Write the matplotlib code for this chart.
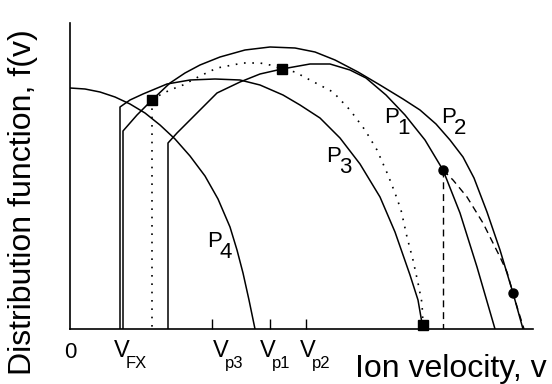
import numpy as np
import matplotlib.pyplot as plt

plt.rcParams['font.family'] = ['Liberation Sans', 'DejaVu Sans']

# ion velocity v and f(v), arbitrary units
p1_v = [0.98, 0.98, 1.07, 1.20, 1.30, 1.47, 1.70, 1.90, 2.12, 2.40, 2.60, 2.80, 2.96,
        3.16, 3.35, 3.55, 3.73, 3.90, 4.07, 4.16, 4.25]
p1_f = [0.00, 1.86, 1.96, 2.09, 2.19, 2.36, 2.47, 2.55, 2.60, 2.65, 2.65, 2.59, 2.51,
        2.34, 2.14, 1.89, 1.59, 1.16, 0.62, 0.31, 0.00]

p2_v = [0.53, 0.53, 0.67, 0.82, 1.00, 1.15, 1.30, 1.50, 1.75, 2.00, 2.25, 2.45, 2.65,
        2.88, 3.10, 3.33, 3.50, 3.66, 3.80, 3.93, 4.04, 4.17, 4.30, 4.43, 4.53]
p2_f = [0.00, 1.98, 2.14, 2.29, 2.46, 2.56, 2.64, 2.72, 2.79, 2.82, 2.81, 2.77, 2.69,
        2.57, 2.44, 2.30, 2.19, 2.05, 1.89, 1.72, 1.51, 1.17, 0.79, 0.36, 0.00]

p3_v = [0.50, 0.50, 0.60, 0.73, 0.97, 1.20, 1.45, 1.70, 1.90, 2.13, 2.30, 2.50, 2.70,
        2.90, 3.10, 3.25, 3.40, 3.48, 3.53]
p3_f = [0.00, 2.22, 2.29, 2.35, 2.45, 2.49, 2.50, 2.49, 2.44, 2.34, 2.24, 2.11, 1.91,
        1.65, 1.32, 0.97, 0.54, 0.29, 0.00]

p4_v = [0.00, 0.15, 0.30, 0.45, 0.60, 0.75, 0.90, 1.05, 1.20, 1.35, 1.48, 1.60, 1.67,
        1.73, 1.79, 1.85]
p4_f = [2.41, 2.40, 2.37, 2.32, 2.25, 2.16, 2.04, 1.90, 1.73, 1.53, 1.30, 1.02, 0.79,
        0.56, 0.29, 0.00]

# dotted path through the squares
dot_v = [0.82, 0.90, 1.00, 1.13, 1.30, 1.47, 1.73, 1.90, 2.00, 2.12, 2.25, 2.40, 2.63,
         2.80, 2.95, 3.07, 3.18, 3.25, 3.31, 3.37, 3.43, 3.48, 3.52, 3.53]
dot_f = [2.29, 2.34, 2.39, 2.44, 2.53, 2.61, 2.66, 2.66, 2.64, 2.60, 2.57, 2.49, 2.37,
         2.19, 1.99, 1.79, 1.54, 1.36, 1.19, 0.92, 0.69, 0.46, 0.26, 0.04]

# dashed path through the circles
dash_v = [3.73, 3.83, 3.97, 4.13, 4.30, 4.37, 4.43, 4.48, 4.54]
dash_f = [1.59, 1.49, 1.32, 1.06, 0.72, 0.57, 0.36, 0.19, 0.00]

sq_v = [0.82, 2.12, 3.53]
sq_f = [2.29, 2.60, 0.04]
ci_v = [3.73, 4.43]
ci_f = [1.59, 0.36]

tick_v = [1.42, 2.00, 2.36]
vel_names = ['FX', 'p3', 'p1', 'p2']
vel_pos = [0.52, 1.51, 1.98, 2.38]

curve_names = ['1', '2', '3', '4']
curve_lab_v = [3.14, 3.71, 2.56, 1.37]
curve_lab_f = [2.06, 2.06, 1.67, 0.82]

fig = plt.figure(figsize=(5.52, 3.84), dpi=100)
ax = fig.add_axes([70 / 552, 55 / 384, 463 / 552, 306 / 384])

for v, f in [(p1_v, p1_f), (p2_v, p2_f), (p3_v, p3_f), (p4_v, p4_f)]:
    ax.plot(v, f, color='k', lw=1.1)

ax.plot(dot_v, dot_f, color='k', lw=1.2, ls=(0, (1, 4)))
ax.plot([sq_v[0], sq_v[0]], [sq_f[0], 0], color='k', lw=1.2, ls=(0, (1, 4)))
ax.plot(dash_v, dash_f, color='k', lw=1.0, ls=(0, (5, 3.5)))
ax.plot([ci_v[0], ci_v[0]], [ci_f[0], 0], color='k', lw=1.0, ls=(0, (5, 3.5)))

ax.plot(sq_v, sq_f, 'ks', ms=6.5, clip_on=False)
ax.plot(ci_v, ci_f, 'ko', ms=6.5, clip_on=False)

ax.set_xlim(0, 4.63)
ax.set_ylim(0, 3.06)
ax.spines['top'].set_visible(False)
ax.spines['right'].set_visible(False)
ax.spines['left'].set_linewidth(1.2)
ax.spines['bottom'].set_linewidth(1.2)
ax.set_xticks(tick_v)
ax.set_yticks([])
ax.tick_params(axis='x', direction='in', length=7, width=1, labelbottom=False)

# velocity labels under the axis
ax.annotate('0', xy=(0, 0), xycoords=('data', 'axes fraction'), xytext=(0, -29),
            textcoords='offset pixels', ha='center', va='baseline', fontsize=16)
for name, v in zip(vel_names, vel_pos):
    ax.annotate('V', xy=(v, 0), xycoords=('data', 'axes fraction'), xytext=(0, -28),
                textcoords='offset pixels', ha='center', va='baseline', fontsize=17)
    ax.annotate(name, xy=(v, 0), xycoords=('data', 'axes fraction'), xytext=(4, -39),
                textcoords='offset pixels', ha='left', va='baseline', fontsize=12)

# curve labels P1..P4
for name, v, f in zip(curve_names, curve_lab_v, curve_lab_f):
    ax.text(v, f, 'P', ha='left', va='baseline', fontsize=16)
    ax.annotate(name, xy=(v, f), xytext=(13, -11), textcoords='offset pixels',
                ha='left', va='baseline', fontsize=16)

fig.text(8 / 552, 0.5 - 10 / 384, 'Distribution function, f(v)', rotation=90,
         ha='left', va='center', fontsize=23)
fig.text(355 / 552, 7 / 384, 'Ion velocity, v', ha='left', va='baseline', fontsize=23)

fig.savefig('out.png', dpi=100)
